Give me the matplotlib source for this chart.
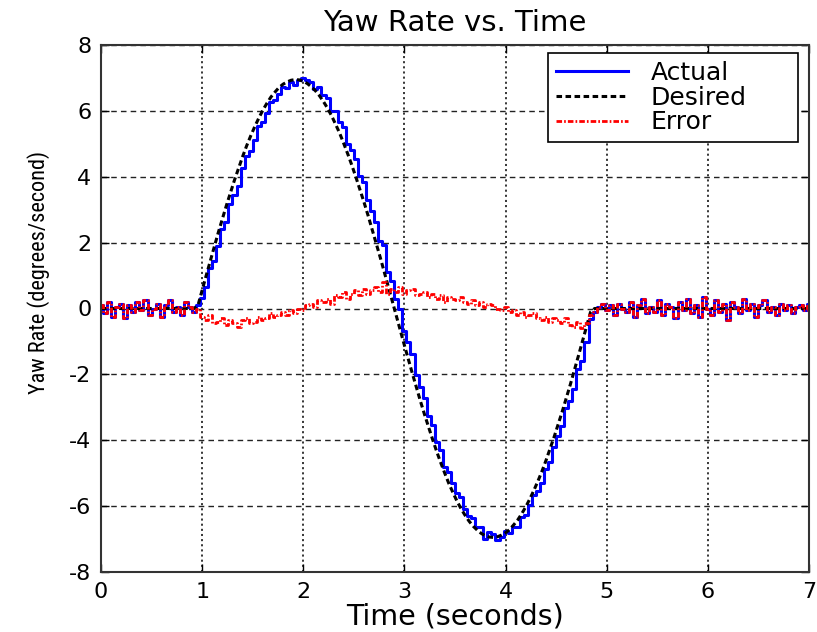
import numpy as np
import matplotlib
matplotlib.use('Agg')
import matplotlib.pyplot as plt
from matplotlib import font_manager

plt.rcParams['lines.scale_dashes'] = False
plt.rcParams['axes.unicode_minus'] = False

# yaw rate samples, one every 0.04 s from 0 to 7 s
noise_before = [0.1, -0.15, 0.2, -0.25, 0.05, 0.15, -0.3, 0.1, -0.1, 0.2,
                -0.05, 0.25, -0.2, 0.0, 0.15, -0.25, 0.1, 0.25, -0.1, 0.05,
                -0.2, 0.2, 0.05, -0.1]

noise_after = [-0.1, 0.05, 0.15, -0.05, 0.1, -0.2, 0.15, 0.0, -0.1, 0.2,
               -0.25, 0.1, 0.3, -0.15, 0.05, -0.1, 0.25, -0.2, 0.15, 0.05,
               -0.3, 0.2, -0.05, 0.3, -0.15, 0.1, -0.25, 0.35, 0.0, -0.2,
               0.25, -0.1, 0.15, -0.35, 0.2, 0.05, -0.15, 0.3, -0.05, 0.15,
               -0.25, 0.1, 0.25, -0.1, 0.05, -0.2, 0.15, -0.05, 0.1, -0.15,
               0.05, 0.1, -0.05, 0.15]

desired_maneuver = [0.11, 0.56, 1.00, 1.44, 1.88, 2.31, 2.72, 3.13, 3.52, 3.90,
                    4.26, 4.61, 4.94, 5.24, 5.52, 5.78, 6.02, 6.23, 6.42, 6.57,
                    6.71, 6.81, 6.88, 6.93, 6.95, 6.94, 6.90, 6.83, 6.73, 6.61,
                    6.46, 6.28, 6.08, 5.85, 5.59, 5.32, 5.01, 4.69, 4.35, 3.99,
                    3.61, 3.23, 2.83, 2.41, 1.99, 1.56, 1.12, 0.67, 0.22, -0.22,
                    -0.67, -1.12, -1.56, -1.99, -2.41, -2.83, -3.23, -3.61, -3.99, -4.35,
                    -4.69, -5.01, -5.32, -5.59, -5.85, -6.08, -6.28, -6.46, -6.61, -6.73,
                    -6.83, -6.90, -6.94, -6.95, -6.93, -6.88, -6.81, -6.71, -6.57, -6.42,
                    -6.23, -6.02, -5.78, -5.52, -5.24, -4.94, -4.61, -4.26, -3.90, -3.52,
                    -3.13, -2.72, -2.31, -1.88, -1.44, -1.00, -0.56, -0.11]

actual_maneuver = [0.11, 0.31, 0.65, 1.24, 1.43, 1.91, 2.42, 2.63, 3.17, 3.45,
                   3.71, 4.26, 4.64, 4.79, 5.12, 5.53, 5.67, 5.93, 6.27, 6.32,
                   6.51, 6.71, 6.68, 6.88, 6.80, 6.94, 7.00, 6.93, 6.88, 6.66,
                   6.71, 6.48, 6.38, 6.00, 5.99, 5.67, 5.51, 4.99, 4.80, 4.54,
                   4.01, 3.83, 3.28, 2.96, 2.64, 2.06, 1.92, 1.12, 0.82, 0.28,
                   -0.02, -0.67, -1.01, -1.39, -2.01, -2.38, -2.73, -3.26, -3.54, -4.05,
                   -4.29, -4.81, -4.97, -5.29, -5.60, -5.73, -6.08, -6.31, -6.36, -6.63,
                   -6.63, -7.00, -6.79, -6.85, -7.02, -6.93, -6.76, -6.81, -6.62, -6.62,
                   -6.33, -6.27, -5.98, -5.67, -5.54, -5.29, -4.86, -4.66, -4.20, -3.87,
                   -3.58, -3.02, -2.81, -2.43, -1.84, -1.60, -1.01, -0.31]

error_maneuver = [0.0, -0.25, -0.35, -0.2, -0.45, -0.4, -0.3, -0.5, -0.35, -0.45,
                  -0.55, -0.35, -0.3, -0.45, -0.4, -0.25, -0.35, -0.3, -0.15, -0.25,
                  -0.2, -0.1, -0.2, -0.05, -0.15, 0.0, -0.05, 0.1, 0.15, 0.05,
                  0.25, 0.2, 0.3, 0.15, 0.4, 0.35, 0.5, 0.3, 0.45, 0.55,
                  0.4, 0.6, 0.45, 0.55, 0.65, 0.5, 0.8, 0.45, 0.6, 0.5,
                  0.65, 0.45, 0.55, 0.6, 0.4, 0.45, 0.5, 0.35, 0.45, 0.3,
                  0.4, 0.2, 0.35, 0.3, 0.25, 0.35, 0.2, 0.15, 0.25, 0.1,
                  0.2, 0.05, 0.15, 0.1, 0.0, -0.05, 0.05, -0.1, -0.05, -0.2,
                  -0.1, -0.25, -0.2, -0.15, -0.3, -0.35, -0.25, -0.4, -0.3, -0.35,
                  -0.45, -0.3, -0.5, -0.55, -0.4, -0.6, -0.45, -0.2]

actual = noise_before + actual_maneuver + noise_after
desired = [0.0] * len(noise_before) + desired_maneuver + [0.0] * len(noise_after)
error = noise_before + error_maneuver + noise_after
time = np.linspace(0, 7, len(actual))

fig = plt.figure(figsize=(8.17, 6.32), dpi=100)
ax = fig.add_axes([101 / 817, 60 / 632, 708 / 817, 527 / 632])

ax.plot(time, actual, color='#0000ff', lw=2.2, drawstyle='steps-mid', label='Actual')
ax.plot(time, desired, color='k', lw=2.2, dashes=(4, 2.5), label='Desired')
ax.plot(time, error, color='#ff0000', lw=2.0, dashes=(4, 1.5, 1.2, 1.5),
        drawstyle='steps-mid', label='Error')

ax.set_xlim(0, 7)
ax.set_ylim(-8, 8)
ax.set_xticks(range(0, 8))
ax.set_yticks(range(-8, 9, 2))

ax.xaxis.grid(True, color='k', lw=1.1, linestyle=(0, (1.5, 2.2)))
ax.yaxis.grid(True, color='#222222', lw=1.0, linestyle=(0, (4, 3)))

ax.tick_params(direction='in', length=6, width=1, top=True, right=True,
               labelsize=16, pad=7)
for s in ax.spines.values():
    s.set_linewidth(1.5)
    s.set_color('#333333')

ax.set_title('Yaw Rate vs. Time', fontsize=21, pad=10)
ax.set_xlabel('Time (seconds)', fontsize=20.5, labelpad=0.5)

# the y label in the picture is tall and narrow, use a narrow face if there is one
installed = {f.name for f in font_manager.fontManager.ttflist}
ylab_font, ylab_size = 'Liberation Sans', 14
for name, size in [('Liberation Sans Narrow', 16.5), ('Roboto Condensed', 16),
                   ('Open Sans Condensed', 16)]:
    if name in installed:
        ylab_font, ylab_size = name, size
        break
ax.set_ylabel('Yaw Rate (degrees/second)', fontfamily=ylab_font, fontsize=ylab_size)
ax.yaxis.set_label_coords(-0.072, 0.569)

leg = ax.legend(loc='upper left', bbox_to_anchor=(0.631, 0.0, 0.353, 0.985),
                mode='expand', borderaxespad=0, fontsize=18, fancybox=False,
                edgecolor='k', framealpha=1, handlelength=2.9, handletextpad=0.9,
                labelspacing=0.03, borderpad=0.32)
leg.get_frame().set_linewidth(1.2)

plt.savefig('out.png', dpi=100)
